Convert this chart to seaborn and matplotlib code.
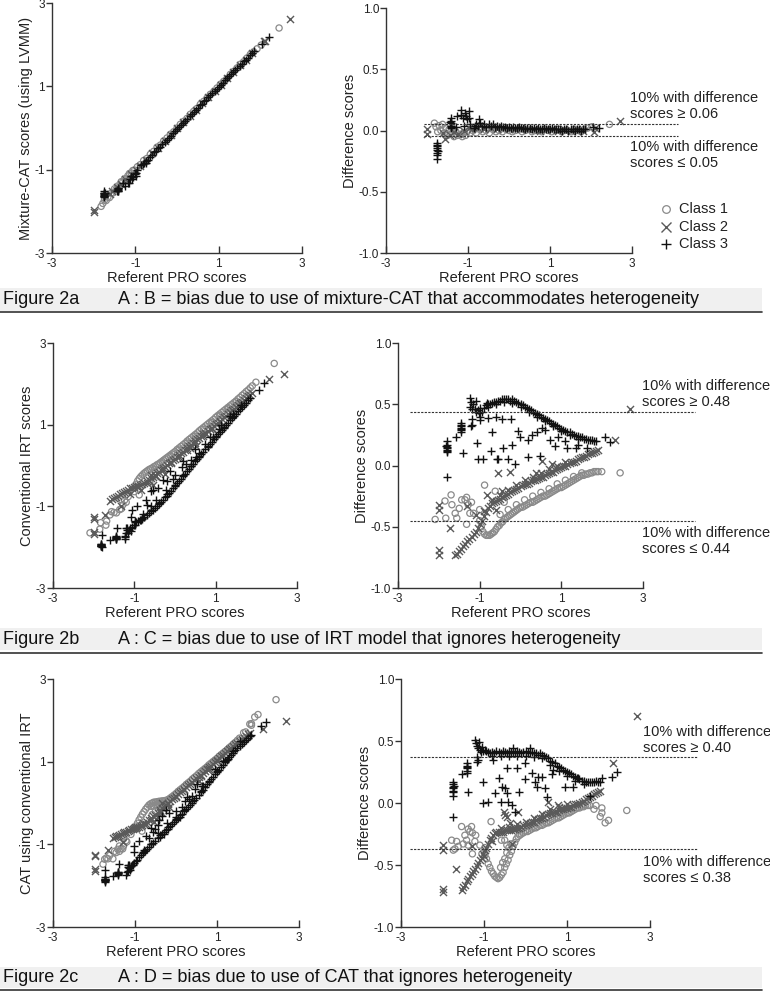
import numpy as np
import pandas as pd
import matplotlib
matplotlib.use("Agg")
import matplotlib.pyplot as plt
from matplotlib.lines import Line2D
from matplotlib.patches import Rectangle
import seaborn as sns

# ---------------- data (x = referent PRO score, d = difference score) ----------------
A_class1 = [(-1.82,0.06),(-1.78,0.03),(-1.74,-0.01),(-1.70,0.04),(-1.66,0.00),(-1.62,0.05),(-1.58,-0.02),(-1.54,0.02),
 (-1.50,-0.04),(-1.46,0.01),(-1.42,-0.03),(-1.38,0.02),(-1.34,-0.05),(-1.30,-0.01),(-1.26,-0.04),(-1.22,0.00),(-1.18,-0.03),
 (-1.14,-0.05),(-1.10,-0.02),(-1.06,-0.04),(-1.02,-0.01),(-0.95,-0.02),(-0.88,0.00),(-0.80,-0.02),(-0.72,0.01),(-0.64,-0.01),
 (-0.56,0.00),(-0.48,-0.02),(-0.40,0.01),(-0.32,-0.01),(-0.24,0.00),(-0.16,-0.01),(-0.08,0.01),(0.00,0.00),(0.08,-0.01),
 (0.16,0.00),(0.24,0.01),(0.32,-0.01),(0.40,0.00),(0.48,0.01),(0.56,-0.01),(0.64,0.00),(0.72,0.00),(0.80,-0.01),(0.88,0.01),
 (0.96,0.00),(1.04,-0.01),(1.12,0.00),(1.20,0.01),(1.28,-0.01),(1.36,0.00),(1.44,0.00),(1.52,-0.01),(1.60,0.01),(1.68,0.00),
 (1.76,-0.01),(1.84,0.01),(1.92,0.02),(2.02,0.03),(2.45,0.05)]
A_class2 = [(-2.00,0.01),(-2.00,-0.03),(-1.60,-0.02),(-1.57,-0.07),(-1.45,-0.04),(-1.35,-0.01),(-1.25,-0.03),(-1.10,0.00),
 (-0.98,0.02),(-0.90,0.01),(-0.75,0.02),(-0.60,0.01),(-0.45,0.02),(-0.30,0.01),(-0.15,0.02),(0.00,0.01),(0.15,0.01),(0.30,0.02),
 (0.45,0.01),(0.60,0.01),(0.75,0.00),(0.90,0.01),(1.05,0.01),(1.20,0.00),(1.35,0.01),(1.50,0.00),(1.65,0.01),(1.80,0.00),
 (2.08,-0.01),(2.10,0.02),(2.70,0.08)]
A_class3 = [(-1.75,-0.10),(-1.75,-0.12),(-1.75,-0.14),(-1.75,-0.16),(-1.75,-0.18),(-1.75,-0.20),(-1.75,-0.23),(-1.76,-0.13),
 (-1.74,-0.17),(-1.42,0.10),(-1.42,0.08),(-1.42,0.06),(-1.42,0.04),(-1.42,0.02),(-1.43,0.07),(-1.41,0.03),(-1.26,0.12),
 (-1.18,0.13),(-1.16,0.17),(-1.12,0.10),(-1.08,0.14),(-1.06,0.12),(-1.02,0.09),(-0.98,0.16),(-0.98,0.10),(-0.95,0.05),
 (-1.10,0.04),(-1.30,0.03),(-0.74,0.09),(-0.82,0.04),(-0.86,0.02),(-0.80,0.05),(-0.75,0.04),(-0.70,0.06),(-0.65,0.04),
 (-0.60,0.05),(-0.55,0.03),(-0.50,0.05),(-0.45,0.04),(-0.40,0.05),(-0.35,0.03),(-0.30,0.04),(-0.25,0.03),(-0.20,0.04),
 (-0.15,0.03),(-0.10,0.03),(-0.05,0.02),(0.00,0.03),(0.05,0.02),(0.10,0.03),(0.15,0.02),(0.20,0.02),(0.25,0.03),(0.30,0.02),
 (0.35,0.02),(0.40,0.01),(0.45,0.02),(0.50,0.02),(0.55,0.01),(0.60,0.02),(0.65,0.01),(0.70,0.02),(0.75,0.01),(0.80,0.01),
 (0.85,0.02),(0.90,0.01),(0.95,0.01),(1.00,0.01),(1.05,0.02),(1.10,0.01),(1.15,0.01),(1.20,0.01),(1.25,0.01),(1.30,0.00),
 (1.35,0.01),(1.40,0.01),(1.45,0.00),(1.50,0.01),(1.55,0.01),(1.60,0.00),(1.65,0.01),(1.70,0.01),(1.75,0.00),(1.80,0.01),
 (1.85,0.01),(2.05,0.03),(2.20,0.02)]

B_class1 = [(-2.09,-0.44),(-1.85,-0.29),(-1.83,-0.43),(-1.70,-0.24),(-1.68,-0.32),(-1.60,-0.39),(-1.56,-0.43),(-1.44,-0.28),
 (-1.36,-0.28),(-1.32,-0.26),(-1.28,-0.32),(-1.24,-0.39),(-1.15,-0.39),(-1.32,-0.48),(-1.00,-0.36),(-0.88,-0.16),(-1.50,-0.35),
 (-1.20,-0.30),(-1.00,-0.45),(-0.96,-0.50),(-0.92,-0.54),(-0.88,-0.56),(-0.84,-0.57),(-0.80,-0.57),(-0.76,-0.57),(-0.72,-0.56),
 (-0.68,-0.55),(-0.64,-0.54),(-0.60,-0.52),(-0.56,-0.50),(-0.52,-0.49),(-0.48,-0.47),(-0.44,-0.46),(-0.40,-0.44),(-0.36,-0.43),
 (-0.32,-0.42),(-0.28,-0.41),(-0.24,-0.40),(-0.20,-0.39),(-0.16,-0.38),(-0.12,-0.37),(-0.08,-0.36),(-0.04,-0.35),(0.00,-0.34),
 (0.05,-0.34),(0.10,-0.33),(0.15,-0.32),(0.20,-0.31),(0.25,-0.30),(0.30,-0.30),(0.35,-0.29),(0.40,-0.28),(0.45,-0.27),
 (0.50,-0.26),(0.55,-0.25),(0.60,-0.25),(0.65,-0.24),(0.70,-0.23),(0.75,-0.22),(0.80,-0.21),(0.85,-0.20),(0.90,-0.19),
 (0.95,-0.18),(1.00,-0.18),(1.05,-0.17),(1.10,-0.16),(1.15,-0.15),(1.20,-0.14),(1.25,-0.13),(1.30,-0.12),(1.35,-0.11),
 (1.40,-0.10),(1.45,-0.09),(1.50,-0.08),(1.55,-0.08),(1.60,-0.07),(1.65,-0.07),(1.70,-0.06),(1.75,-0.06),(1.80,-0.05),
 (1.85,-0.05),(1.90,-0.05),(1.99,-0.05),(-0.50,-0.40),(-0.30,-0.36),(-0.10,-0.32),(0.10,-0.28),(0.30,-0.25),(0.50,-0.22),
 (0.70,-0.19),(0.90,-0.15),(1.10,-0.12),(1.30,-0.09),(1.50,-0.06),(-0.62,-0.21),(-0.40,-0.30),(2.44,-0.06)]
B_class2 = [(-2.00,-0.32),(-2.00,-0.36),(-2.00,-0.69),(-2.00,-0.73),(-1.73,-0.51),(-1.32,-0.33),(-1.60,-0.73),(-1.55,-0.72),
 (-1.50,-0.70),(-1.45,-0.68),(-1.40,-0.66),(-1.35,-0.64),(-1.30,-0.62),(-1.25,-0.60),(-1.20,-0.58),(-1.15,-0.56),(-1.10,-0.54),
 (-1.05,-0.51),(-1.00,-0.48),(-0.95,-0.45),(-0.90,-0.41),(-0.85,-0.38),(-0.80,-0.35),(-0.75,-0.33),(-0.70,-0.31),(-0.65,-0.30),
 (-0.60,-0.29),(-0.55,-0.28),(-0.50,-0.27),(-0.45,-0.26),(-0.40,-0.25),(-0.35,-0.24),(-0.30,-0.23),(-0.25,-0.22),(-0.20,-0.21),
 (-0.15,-0.20),(-0.10,-0.19),(-0.05,-0.18),(0.00,-0.17),(0.05,-0.16),(0.10,-0.15),(0.15,-0.15),(0.20,-0.14),(0.25,-0.13),
 (0.30,-0.12),(0.35,-0.12),(0.40,-0.11),(0.45,-0.10),(0.50,-0.09),(0.55,-0.09),(0.60,-0.08),(0.65,-0.07),(0.70,-0.06),
 (0.75,-0.05),(0.80,-0.05),(0.85,-0.04),(0.90,-0.03),(0.95,-0.02),(1.00,-0.01),(1.05,0.00),(1.10,0.00),(1.15,0.01),(1.20,0.02),
 (1.25,0.03),(1.30,0.03),(1.35,0.04),(1.40,0.05),(1.45,0.06),(1.50,0.07),(1.55,0.07),(1.60,0.08),(1.65,0.09),(1.70,0.10),
 (1.75,0.10),(1.80,0.11),(1.85,0.12),(1.90,0.13),(-0.90,-0.37),(-0.70,-0.28),(-0.50,-0.24),(-0.30,-0.20),(-0.10,-0.16),
 (0.10,-0.12),(0.30,-0.09),(0.50,-0.06),(0.70,-0.03),(0.90,0.00),(1.10,0.03),(-0.83,-0.24),(-0.54,-0.06),(-0.25,-0.05),
 (-0.46,-0.21),(0.37,-0.06),(0.52,0.04),(0.77,0.01),(2.32,0.21),(2.69,0.46),(-1.10,-0.40),(-0.60,-0.36)]
B_class3 = [(-1.81,0.17),(-1.81,0.15),(-1.81,0.14),(-1.81,0.13),(-1.81,0.12),(-1.81,0.11),(-1.80,0.20),(-1.80,-0.09),
 (-1.82,0.16),(-1.46,0.33),(-1.46,0.31),(-1.46,0.30),(-1.46,0.29),(-1.46,0.27),(-1.46,0.35),(-1.45,0.32),(-1.59,0.23),
 (-1.42,0.10),(-1.19,0.38),(-1.19,0.33),(-1.21,0.32),(-1.24,0.55),(-1.22,0.52),(-1.24,0.48),(-1.20,0.46),(-1.16,0.50),
 (-1.12,0.46),(-1.10,0.44),(-1.05,0.45),(-1.02,0.43),(-0.98,0.47),(-0.95,0.44),(-1.08,0.53),(-1.07,0.18),(-1.05,0.05),
 (-0.93,0.05),(-0.99,0.40),(-0.99,0.37),(-0.90,0.47),(-0.85,0.49),(-0.80,0.50),(-0.75,0.50),(-0.70,0.51),(-0.65,0.52),
 (-0.60,0.52),(-0.55,0.53),(-0.50,0.53),(-0.45,0.54),(-0.40,0.54),(-0.35,0.54),(-0.30,0.54),(-0.25,0.53),(-0.20,0.54),
 (-0.15,0.53),(-0.10,0.52),(-0.05,0.51),(0.00,0.50),(0.05,0.49),(0.10,0.48),(0.15,0.47),(0.20,0.46),(0.25,0.45),(0.30,0.44),
 (0.35,0.43),(0.40,0.42),(0.45,0.41),(0.50,0.40),(0.55,0.39),(0.60,0.38),(0.65,0.37),(0.70,0.36),(0.75,0.35),(0.80,0.34),
 (0.85,0.33),(0.90,0.32),(0.95,0.31),(1.00,0.30),(1.05,0.29),(1.10,0.28),(1.15,0.27),(1.20,0.27),(1.25,0.26),(1.30,0.25),
 (1.35,0.24),(1.40,0.24),(1.45,0.23),(1.50,0.23),(1.55,0.22),(1.60,0.22),(1.65,0.21),(1.70,0.21),(1.75,0.21),(1.80,0.20),
 (1.85,0.20),(-0.80,0.48),(-0.60,0.50),(-0.40,0.52),(-0.20,0.51),(0.00,0.48),(0.20,0.44),(0.40,0.40),(0.60,0.36),(0.80,0.32),
 (1.00,0.28),(1.20,0.25),(1.40,0.22),(-0.70,0.27),(-0.72,0.12),(-0.58,0.05),(-0.54,0.05),(-0.46,0.38),(-0.42,0.14),
 (-0.30,0.05),(-0.23,0.38),(-0.20,0.17),(-0.13,0.01),(-0.05,0.28),(-0.01,0.23),(0.18,0.21),(0.19,0.07),(0.28,0.25),(0.40,0.27),
 (0.48,0.08),(0.52,0.31),(0.60,0.29),(0.73,0.21),(0.85,0.16),(0.93,0.23),(1.09,0.20),(1.13,0.14),(1.35,0.14),(1.42,0.17),
 (1.62,0.14),(2.07,0.23),(2.20,0.19),(-0.83,0.51),(-0.79,0.39),(-0.60,0.40)]

C_class1 = [(-1.78,-0.30),(-1.74,-0.38),(-1.66,-0.31),(-1.62,-0.35),(-1.54,-0.19),(-1.46,-0.26),(-1.38,-0.34),(-1.38,-0.21),
 (-1.34,-0.23),(-1.30,-0.19),(-1.28,-0.24),(-1.22,-0.31),(-1.28,-0.41),(-1.10,-0.34),(-0.98,-0.36),(-0.83,-0.15),(-1.05,-0.41),
 (-1.50,-0.33),(-1.70,-0.37),(-1.42,-0.30),(-1.20,-0.26),(-0.98,-0.42),(-0.94,-0.45),(-0.90,-0.49),(-0.86,-0.52),(-0.82,-0.55),
 (-0.78,-0.57),(-0.74,-0.59),(-0.70,-0.60),(-0.66,-0.61),(-0.62,-0.60),(-0.58,-0.58),(-0.54,-0.56),(-0.50,-0.52),(-0.46,-0.49),
 (-0.42,-0.46),(-0.38,-0.42),(-0.34,-0.39),(-0.30,-0.35),(-0.26,-0.32),(-0.22,-0.29),(-0.18,-0.27),(-0.14,-0.26),(-0.10,-0.25),
 (-0.05,-0.24),(0.00,-0.23),(0.05,-0.23),(0.10,-0.22),(0.15,-0.21),(0.20,-0.20),(0.25,-0.20),(0.30,-0.19),(0.35,-0.18),
 (0.40,-0.18),(0.45,-0.17),(0.50,-0.16),(0.55,-0.16),(0.60,-0.15),(0.65,-0.14),(0.70,-0.13),(0.75,-0.12),(0.80,-0.12),
 (0.85,-0.11),(0.90,-0.10),(0.95,-0.09),(1.00,-0.08),(1.05,-0.08),(1.10,-0.07),(1.15,-0.06),(1.20,-0.05),(1.25,-0.04),
 (1.30,-0.04),(1.35,-0.03),(1.40,-0.03),(1.45,-0.02),(1.50,-0.02),(1.55,-0.02),(-0.60,-0.52),(-0.55,-0.48),(-0.50,-0.45),
 (-0.45,-0.40),(-0.40,-0.36),(-0.35,-0.33),(-0.58,-0.30),(-0.50,-0.30),(-0.45,-0.34),(1.84,-0.04),(1.84,-0.08),(1.80,-0.11),
 (2.00,-0.14),(1.92,-0.16),(2.44,-0.06),(1.65,-0.05),(1.70,-0.02)]
C_class2 = [(-1.98,-0.34),(-1.98,-0.38),(-1.98,-0.69),(-1.98,-0.72),(-1.67,-0.53),(-1.30,-0.35),(-1.54,-0.70),(-1.50,-0.68),
 (-1.46,-0.66),(-1.42,-0.63),(-1.38,-0.61),(-1.34,-0.59),(-1.30,-0.57),(-1.26,-0.55),(-1.22,-0.53),(-1.18,-0.51),(-1.14,-0.48),
 (-1.10,-0.46),(-1.06,-0.44),(-1.02,-0.41),(-0.98,-0.38),(-0.94,-0.36),(-0.90,-0.33),(-0.86,-0.30),(-0.82,-0.28),(-0.78,-0.26),
 (-0.74,-0.24),(-0.70,-0.23),(-0.65,-0.23),(-0.60,-0.23),(-0.55,-0.23),(-0.50,-0.22),(-0.45,-0.22),(-0.40,-0.22),(-0.35,-0.22),
 (-0.30,-0.21),(-0.25,-0.21),(-0.20,-0.20),(-0.15,-0.20),(-0.10,-0.19),(-0.05,-0.18),(0.00,-0.18),(0.05,-0.17),(0.10,-0.16),
 (0.15,-0.15),(0.20,-0.15),(0.25,-0.14),(0.30,-0.13),(0.35,-0.12),(0.40,-0.12),(0.45,-0.11),(0.50,-0.10),(0.55,-0.09),
 (0.60,-0.08),(0.65,-0.08),(0.70,-0.07),(0.75,-0.07),(0.80,-0.06),(0.85,-0.05),(0.90,-0.05),(0.95,-0.04),(1.00,-0.04),
 (1.05,-0.03),(1.10,-0.03),(1.15,-0.02),(1.20,-0.01),(1.25,-0.01),(1.30,0.00),(1.35,0.01),(1.40,0.02),(1.45,0.03),(1.50,0.04),
 (1.55,0.05),(1.60,0.06),(1.65,0.07),(1.70,0.08),(1.75,0.09),(1.80,0.10),(-0.60,-0.20),(-0.40,-0.19),(-0.20,-0.17),
 (0.00,-0.15),(0.20,-0.12),(0.40,-0.09),(0.60,-0.05),(0.80,-0.03),(1.00,-0.01),(-0.80,-0.31),(-1.00,-0.43),(-0.53,-0.07),
 (-0.49,-0.10),(-0.37,-0.16),(-0.33,-0.33),(-0.17,-0.07),(0.55,0.01),(0.79,-0.02),(2.12,0.32),(2.68,0.70),(-0.45,-0.11)]
C_class3 = [(-1.74,0.15),(-1.74,0.13),(-1.74,0.12),(-1.74,0.10),(-1.74,0.09),(-1.74,0.17),(-1.74,0.06),(-1.74,-0.11),
 (-1.73,0.14),(-1.42,0.32),(-1.42,0.30),(-1.42,0.28),(-1.42,0.26),(-1.42,0.24),(-1.41,0.29),(-1.54,0.23),(-1.38,0.09),
 (-1.18,0.37),(-1.14,0.35),(-1.16,0.33),(-1.22,0.51),(-1.20,0.48),(-1.18,0.46),(-1.14,0.44),(-1.10,0.43),(-1.06,0.45),
 (-1.02,0.42),(-0.98,0.43),(-1.12,0.49),(-1.08,0.41),(-1.02,0.17),(-1.03,0.00),(-0.90,0.01),(-0.78,0.35),(-0.95,0.42),
 (-0.90,0.41),(-0.85,0.40),(-0.80,0.41),(-0.75,0.40),(-0.70,0.42),(-0.65,0.41),(-0.60,0.40),(-0.55,0.42),(-0.50,0.41),
 (-0.45,0.40),(-0.40,0.42),(-0.35,0.41),(-0.30,0.40),(-0.25,0.41),(-0.20,0.42),(-0.15,0.41),(-0.10,0.40),(-0.05,0.41),
 (0.00,0.42),(0.05,0.41),(0.10,0.40),(0.15,0.41),(0.20,0.40),(0.25,0.40),(0.30,0.39),(0.35,0.40),(0.40,0.39),(0.45,0.38),
 (0.50,0.37),(0.55,0.36),(0.60,0.34),(0.65,0.33),(0.70,0.32),(0.75,0.30),(0.80,0.29),(0.85,0.28),(0.90,0.27),(0.95,0.26),
 (1.00,0.25),(1.05,0.24),(1.10,0.23),(1.15,0.22),(1.20,0.21),(1.25,0.20),(1.30,0.19),(1.35,0.18),(1.40,0.18),(1.45,0.17),
 (1.50,0.17),(1.55,0.17),(1.60,0.17),(1.65,0.17),(1.70,0.18),(1.75,0.17),(1.80,0.17),(-0.80,0.38),(-0.60,0.38),(-0.40,0.38),
 (-0.20,0.38),(0.00,0.38),(0.20,0.37),(0.40,0.36),(0.60,0.31),(0.80,0.26),(1.00,0.22),(1.20,0.18),(1.40,0.15),(0.10,0.44),
 (-0.30,0.44),(-0.65,0.20),(-0.73,0.08),(-0.57,0.13),(-0.45,0.28),(-0.45,0.08),(-0.41,0.01),(-0.33,-0.02),(-0.25,-0.07),
 (-0.21,0.28),(-0.16,0.09),(-0.01,0.19),(-0.01,0.32),(0.15,0.24),(0.23,0.17),(0.27,0.13),(0.31,0.21),(0.39,0.21),(0.47,0.12),
 (0.51,0.05),(0.63,0.23),(0.67,0.27),(0.95,0.13),(1.15,0.13),(1.27,0.20),(1.55,0.06),(1.84,0.20),(2.08,0.21),(2.20,0.25),
 (-0.50,0.12),(-0.60,0.01)]

# dashed 10% threshold lines (difference score values)
thresholds_a = [0.055, -0.045]
thresholds_b = [0.44, -0.455]
thresholds_c = [0.37, -0.37]

left_ylabels = ["Mixture-CAT scores (using LVMM)", "Conventional IRT scores", "CAT using conventional IRT"]
captions = [("Figure 2a", "A : B = bias due to use of mixture-CAT that accommodates heterogeneity"),
            ("Figure 2b", "A : C = bias due to use of IRT model that ignores heterogeneity"),
            ("Figure 2c", "A : D = bias due to use of CAT that ignores heterogeneity")]
notes = [("10% with difference\nscores \u2265 0.06", "10% with difference\nscores \u2264 0.05"),
         ("10% with difference\nscores \u2265 0.48", "10% with difference\nscores \u2264 0.44"),
         ("10% with difference\nscores \u2265 0.40", "10% with difference\nscores \u2264 0.38")]
class_labels = ["Class 1", "Class 2", "Class 3"]
left_ticks = [-3, -1, 1, 3]
diff_ticks = [-1.0, -0.5, 0.0, 0.5, 1.0]

# ---------------- styling ----------------
sns.set_theme(style="ticks")
plt.rcParams["font.family"] = ["Liberation Sans", "DejaVu Sans"]
plt.rcParams["axes.unicode_minus"] = False

W, H = 770, 996
fig = plt.figure(figsize=(W / 100, H / 100), dpi=100)
fig.patch.set_facecolor("white")

COLS = ["#8a8a8a", "#5a5a5a", "#111111"]
MARKS = ["o", "x", "+"]
SIZES = [20, 26, 34]
AXCOL = "#333333"


def add_ax(l, t, r, b):
    return fig.add_axes([l / W, 1 - b / H, (r - l) / W, (b - t) / H])


def style_ax(ax, yt, ylab, ylim, yfmt):
    ax.set_xlim(-3, 3)
    ax.set_ylim(*ylim)
    ax.set_xticks(left_ticks)
    ax.set_xticklabels([str(t) for t in left_ticks])
    ax.set_yticks(yt)
    ax.set_yticklabels([yfmt(t) for t in yt])
    sns.despine(ax=ax)
    for s in ["left", "bottom"]:
        ax.spines[s].set_color(AXCOL)
        ax.spines[s].set_linewidth(1.0)
    ax.tick_params(axis="x", direction="in", length=5, width=1.0, color=AXCOL,
                   labelsize=8.5, pad=3.5, labelcolor="#222222")
    ax.tick_params(axis="y", direction="out", length=4, width=1.0, color=AXCOL,
                   labelsize=8.5, pad=1, labelcolor="#222222")
    ax.set_xlabel("Referent PRO scores", fontsize=10.5, labelpad=1, color="#222222")
    ax.set_ylabel(ylab, fontsize=10.5, labelpad=1, color="#222222")
    ax.set_facecolor("none")


def frame(series):
    rows = []
    for k, pts in enumerate(series):
        for x, d in pts:
            rows.append((x, d, x - d, k))
    return pd.DataFrame(rows, columns=["x", "d", "score", "cls"])


def scatter(ax, df, ycol):
    for k in range(3):
        sub = df[df["cls"] == k]
        if k == 0:
            sns.scatterplot(data=sub, x="x", y=ycol, ax=ax, marker="o", s=SIZES[k],
                            facecolors="none", edgecolor=COLS[k], linewidth=0.9, legend=False)
        else:
            sns.scatterplot(data=sub, x="x", y=ycol, ax=ax, marker=MARKS[k], s=SIZES[k],
                            color=COLS[k], linewidth=1.0, legend=False)


panels = [
    dict(series=[A_class1, A_class2, A_class3], thr=thresholds_a, thr_x=(-2.08, 4.13),
         left=(52, 3, 302, 253), right=(386, 8, 632, 253), note_x=630, note_y=(106, 155),
         cap=(288, 311, 299, 312)),
    dict(series=[B_class1, B_class2, B_class3], thr=thresholds_b, thr_x=(-2.71, 4.28),
         left=(53, 343, 297, 588), right=(398, 343, 643, 588), note_x=642, note_y=(394, 541),
         cap=(628, 650, 639, 653)),
    dict(series=[C_class1, C_class2, C_class3], thr=thresholds_c, thr_x=(-2.78, 4.16),
         left=(53, 679, 299, 927), right=(401, 679, 650, 927), note_x=643, note_y=(740, 870),
         cap=(967, 988, 977, 990)),
]

for i, p in enumerate(panels):
    df = frame(p["series"])
    axl = add_ax(*p["left"])
    scatter(axl, df, "score")
    style_ax(axl, left_ticks, left_ylabels[i], (-3, 3), lambda t: str(int(t)))

    axr = add_ax(*p["right"])
    scatter(axr, df, "d")
    style_ax(axr, diff_ticks, "Difference scores", (-1, 1), lambda t: f"{t:.1f}")
    for t in p["thr"]:
        axr.plot(list(p["thr_x"]), [t, t], color="#333333", lw=0.8,
                 ls=(0, (2, 1.2)), clip_on=False)

    up, lo = notes[i]
    fig.text(p["note_x"] / W, 1 - p["note_y"][0] / H, up, fontsize=10.5, va="center",
             ha="left", linespacing=1.15, color="#222222")
    fig.text(p["note_x"] / W, 1 - p["note_y"][1] / H, lo, fontsize=10.5, va="center",
             ha="left", linespacing=1.15, color="#222222")

    t0, t1, tc, ly = p["cap"]
    fig.add_artist(Rectangle((0, 1 - t1 / H), 762 / W, (t1 - t0) / H,
                             transform=fig.transFigure, facecolor="#f0f0f0", edgecolor="none"))
    fig.add_artist(Line2D([0, 762 / W], [1 - ly / H, 1 - ly / H], transform=fig.transFigure,
                          color="#333333", lw=1.2))
    fig.text(3 / W, 1 - tc / H, captions[i][0], fontsize=13, va="center", ha="left", color="#111111")
    fig.text(118 / W, 1 - tc / H, captions[i][1], fontsize=13, va="center", ha="left", color="#111111")

# legend (first difference panel)
for k, yy in enumerate([209, 227, 244]):
    if k == 0:
        mk = dict(marker="o", mfc="none", mec=COLS[0], ms=5.5, mew=0.9)
    else:
        mk = dict(marker=MARKS[k], color=COLS[k], ms=6.5 if k == 1 else 7.5, mew=1.0)
    fig.add_artist(Line2D([666 / W], [1 - yy / H], transform=fig.transFigure, ls="none", **mk))
    fig.text(679 / W, 1 - yy / H, class_labels[k], fontsize=10.5, va="center", ha="left", color="#222222")

fig.savefig("out.png", dpi=100, facecolor="white")
